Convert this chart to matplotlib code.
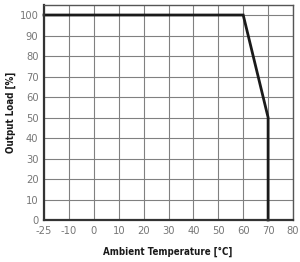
import matplotlib
matplotlib.use("Agg")
import matplotlib.pyplot as plt

plt.rcParams['font.family'] = ['DejaVu Sans']
plt.rcParams['font.stretch'] = 'condensed'

temps = [-20, 60, 70, 70]
load = [100, 100, 50, 0]
x_ticks = [-20, -10, 0, 10, 20, 30, 40, 50, 60, 70, 80]
x_labels = ['-25', '-10', '0', '10', '20', '30', '40', '50', '60', '70', '80']
y_ticks = [0, 10, 20, 30, 40, 50, 60, 70, 80, 90, 100]

fig = plt.figure(figsize=(3.0, 2.62), dpi=100)
ax = fig.add_axes([0.1467, 0.1603, 0.83, 0.8207])
ax.set_xlim(-20, 80)
ax.set_ylim(0, 104.9)
ax.set_xticks(x_ticks)
ax.set_xticklabels(x_labels)
ax.set_yticks(y_ticks)
ax.grid(True, color='#808080', linewidth=0.8)
ax.set_axisbelow(True)
ax.plot(temps, load, color='#1a1a1a', linewidth=2.0, solid_joinstyle='miter', clip_on=False)
ax.tick_params(length=0, labelsize=8, colors='#777777', pad=4)
for s in ['top', 'right']:
    ax.spines[s].set_color('#555555')
    ax.spines[s].set_linewidth(1.0)
for s in ['bottom', 'left']:
    ax.spines[s].set_color('#333333')
    ax.spines[s].set_linewidth(1.6)
ax.set_xlabel('Ambient Temperature [°C]', fontsize=7, fontweight='bold', color='#1a1a1a')
ax.set_ylabel('Output Load [%]', fontsize=7, fontweight='bold', color='#1a1a1a')
ax.xaxis.set_label_coords(0.498, -0.125)
ax.yaxis.set_label_coords(-0.112, 0.50)
fig.savefig('out.png', dpi=100)
